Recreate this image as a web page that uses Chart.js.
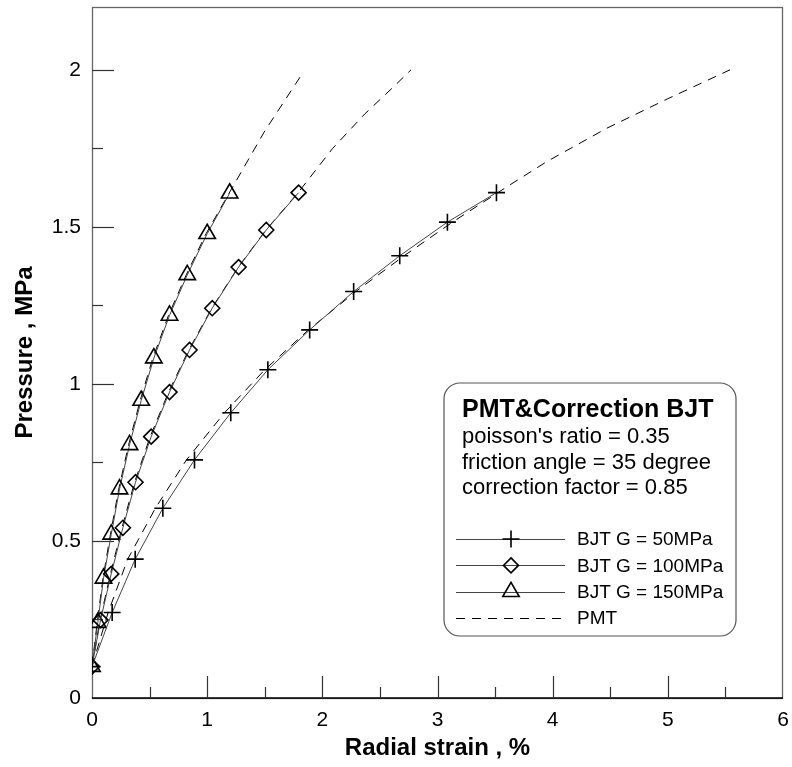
<!DOCTYPE html>
<html><head><meta charset="utf-8">
<script src="https://cdn.jsdelivr.net/npm/chart.js@4/dist/chart.umd.min.js"></script>
<style>html,body{margin:0;padding:0;background:#fff;}#wrap{width:792px;height:767px;}</style>
</head><body><div id="wrap"><canvas id="c" width="792" height="767"></canvas></div>
<script>
// ---- data ----
const bjt50X  = [0, 0.175, 0.375, 0.615, 0.89, 1.205, 1.527, 1.89, 2.272, 2.672, 3.086, 3.512];
const bjt50Y  = [0.1, 0.272, 0.442, 0.604, 0.758, 0.908, 1.045, 1.172, 1.294, 1.408, 1.515, 1.609];
const bjt100X = [0, 0.074, 0.167, 0.268, 0.378, 0.514, 0.673, 0.847, 1.044, 1.273, 1.513, 1.794];
const bjt100Y = [0.1, 0.248, 0.395, 0.542, 0.687, 0.832, 0.974, 1.108, 1.241, 1.372, 1.49, 1.609];
const bjt150X = [0, 0.05, 0.10, 0.167, 0.239, 0.326, 0.427, 0.537, 0.673, 0.827, 1.0, 1.195];
const bjt150Y = [0.1, 0.24, 0.381, 0.521, 0.665, 0.806, 0.947, 1.082, 1.218, 1.347, 1.478, 1.607];
const pmt50X  = [0, 0.14, 0.31, 0.55, 0.82, 1.15, 1.50, 1.88, 2.29, 2.71, 3.13, 3.6, 3.95, 4.47, 5.0, 5.54];
const pmt50Y  = [0.1, 0.272, 0.442, 0.604, 0.758, 0.908, 1.045, 1.172, 1.294, 1.408, 1.515, 1.627, 1.708, 1.814, 1.908, 2.0];
const pmt100X = [0, 0.07, 0.16, 0.26, 0.37, 0.505, 0.665, 0.84, 1.04, 1.27, 1.51, 1.79, 2.09, 2.37, 2.63, 2.77];
const pmt100Y = [0.1, 0.248, 0.395, 0.542, 0.687, 0.832, 0.974, 1.108, 1.241, 1.372, 1.49, 1.609, 1.75, 1.86, 1.95, 2.0];
const pmt150X = [0, 0.045, 0.095, 0.16, 0.232, 0.318, 0.418, 0.528, 0.664, 0.818, 0.99, 1.19, 1.5, 1.83];
const pmt150Y = [0.1, 0.24, 0.381, 0.521, 0.665, 0.806, 0.947, 1.082, 1.218, 1.347, 1.478, 1.607, 1.805, 1.99];

const xTickValues = [0, 1, 2, 3, 4, 5, 6];
const xTickLabels = ['0', '1', '2', '3', '4', '5', '6'];
const yTickValues = [0, 0.5, 1, 1.5, 2];
const yTickLabels = ['0', '0.5', '1', '1.5', '2'];
const xTitle = 'Radial strain , %';
const yTitle = 'Pressure , MPa';
const boxTitle = 'PMT&Correction BJT';
const boxLines = ["poisson's ratio = 0.35", 'friction angle = 35 degree', 'correction factor = 0.85'];
const seriesLabels = ['BJT G = 50MPa', 'BJT G = 100MPa', 'BJT G = 150MPa', 'PMT'];

const FONT = "Arial, 'Liberation Sans', sans-serif";
const pts = (xs, ys) => xs.map((x, i) => ({x: x, y: ys[i]}));

function bjtSet(label, xs, ys, style, r) {
  return {label: label, data: pts(xs, ys), showLine: true, borderColor: '#444', borderWidth: 1,
    pointStyle: style, pointRadius: r, pointBorderWidth: 1.6, pointBorderColor: '#000',
    pointBackgroundColor: 'rgba(0,0,0,0)', tension: 0, fill: false};
}
function pmtSet(xs, ys) {
  return {label: seriesLabels[3], data: pts(xs, ys), showLine: true, borderColor: '#000', borderWidth: 1,
    borderDash: [9, 7], pointRadius: 0, tension: 0, fill: false};
}

function drawMarker(ctx, style, x, y, r) {
  ctx.beginPath();
  if (style === 'cross') {
    ctx.moveTo(x - r, y); ctx.lineTo(x + r, y); ctx.moveTo(x, y - r); ctx.lineTo(x, y + r);
  } else if (style === 'rectRot') {
    ctx.moveTo(x, y - r); ctx.lineTo(x + r, y); ctx.lineTo(x, y + r); ctx.lineTo(x - r, y); ctx.closePath();
  } else if (style === 'triangle') {
    ctx.moveTo(x, y - r); ctx.lineTo(x + r * Math.sin(2 * Math.PI / 3), y + r / 2);
    ctx.lineTo(x - r * Math.sin(2 * Math.PI / 3), y + r / 2); ctx.closePath();
  }
  ctx.stroke();
}

const decorPlugin = {
  id: 'decor',
  beforeDatasetsDraw(chart) {
    const ctx = chart.ctx, a = chart.chartArea;
    const xs = chart.scales.x, ys = chart.scales.y;
    ctx.save();
    // frame
    ctx.strokeStyle = '#666'; ctx.lineWidth = 1.3;
    ctx.strokeRect(Math.round(a.left) + 0.5, Math.round(a.top) + 0.5, Math.round(a.right - a.left) - 1, Math.round(a.bottom - a.top));
    ctx.strokeStyle = '#000'; ctx.lineWidth = 1.5;
    ctx.beginPath(); ctx.moveTo(a.left, a.bottom); ctx.lineTo(a.right, a.bottom); ctx.stroke();
    // inward ticks
    ctx.strokeStyle = '#333'; ctx.lineWidth = 1.2;
    xs.ticks.forEach(t => {
      if (t.value <= 0 || t.value >= 6) return;
      const px = Math.round(xs.getPixelForValue(t.value)) + 0.5;
      const len = Math.abs(t.value - Math.round(t.value)) < 1e-6 ? 22 : 11;
      ctx.beginPath(); ctx.moveTo(px, a.bottom); ctx.lineTo(px, a.bottom - len); ctx.stroke();
    });
    ys.ticks.forEach(t => {
      if (t.value <= 0 || t.value > 2.001) return;
      const py = Math.round(ys.getPixelForValue(t.value)) + 0.5;
      const len = Math.abs(t.value * 2 - Math.round(t.value * 2)) < 1e-6 ? 22 : 11;
      ctx.beginPath(); ctx.moveTo(a.left, py); ctx.lineTo(a.left + len, py); ctx.stroke();
    });
    ctx.restore();
  },
  afterDatasetsDraw(chart) {
    const ctx = chart.ctx, a = chart.chartArea;
    const bx = a.left + 352, by = a.top + 376, bw = 292, bh = 253, rr = 16;
    ctx.save();
    ctx.beginPath();
    ctx.moveTo(bx + rr, by); ctx.lineTo(bx + bw - rr, by); ctx.arcTo(bx + bw, by, bx + bw, by + rr, rr);
    ctx.lineTo(bx + bw, by + bh - rr); ctx.arcTo(bx + bw, by + bh, bx + bw - rr, by + bh, rr);
    ctx.lineTo(bx + rr, by + bh); ctx.arcTo(bx, by + bh, bx, by + bh - rr, rr);
    ctx.lineTo(bx, by + rr); ctx.arcTo(bx, by, bx + rr, by, rr); ctx.closePath();
    ctx.fillStyle = '#fff'; ctx.fill();
    ctx.strokeStyle = '#555'; ctx.lineWidth = 1.2; ctx.stroke();
    ctx.fillStyle = '#000'; ctx.textBaseline = 'alphabetic'; ctx.textAlign = 'left';
    ctx.font = 'bold 25px ' + FONT;
    ctx.fillText(boxTitle, bx + 18, by + 34);
    ctx.font = '22px ' + FONT;
    const lineY = [60, 86, 111];
    boxLines.forEach((s, i) => ctx.fillText(s, bx + 18, by + lineY[i]));
    // legend entries
    const seen = [];
    const entries = [];
    chart.data.datasets.forEach(d => { if (seen.indexOf(d.label) < 0) { seen.push(d.label); entries.push(d); } });
    ctx.font = '19px ' + FONT; ctx.textBaseline = 'middle';
    entries.forEach((d, i) => {
      const y = by + 156 + i * 26.4;
      ctx.strokeStyle = d.borderColor; ctx.lineWidth = 1;
      ctx.setLineDash(d.borderDash || []);
      ctx.beginPath(); ctx.moveTo(bx + 12, Math.round(y) + 0.5); ctx.lineTo(bx + 121, Math.round(y) + 0.5); ctx.stroke();
      ctx.setLineDash([]);
      if (d.pointRadius > 0) {
        ctx.strokeStyle = '#000'; ctx.lineWidth = 1.6;
        drawMarker(ctx, d.pointStyle, bx + 67, y, d.pointRadius);
      }
      ctx.fillStyle = '#000';
      ctx.fillText(d.label, bx + 133, y + 1);
    });
    ctx.restore();
  }
};

new Chart(document.getElementById('c'), {
  type: 'scatter',
  data: {
    datasets: [
      bjtSet(seriesLabels[0], bjt50X, bjt50Y, 'cross', 8.5),
      bjtSet(seriesLabels[1], bjt100X, bjt100Y, 'rectRot', 7.5),
      bjtSet(seriesLabels[2], bjt150X, bjt150Y, 'triangle', 9.5),
      pmtSet(pmt50X, pmt50Y),
      pmtSet(pmt100X, pmt100Y),
      pmtSet(pmt150X, pmt150Y)
    ]
  },
  options: {
    responsive: false, animation: false, devicePixelRatio: 1, events: [],
    layout: {autoPadding: false, padding: {top: 7, right: 9, bottom: 0, left: 0}},
    plugins: {legend: {display: false}, tooltip: {enabled: false}},
    scales: {
      x: {
        type: 'linear', min: 0, max: 6,
        grid: {display: false, drawTicks: false}, border: {display: false},
        ticks: {stepSize: 0.5, maxTicksLimit: 100, includeBounds: false, padding: 10, color: '#000', maxRotation: 0,
          font: {family: FONT, size: 21},
          callback: v => { const i = xTickValues.findIndex(t => Math.abs(t - v) < 1e-6); return i >= 0 ? xTickLabels[i] : ''; }},
        title: {display: true, text: xTitle, color: '#000', font: {family: FONT, size: 24, weight: 'bold'}, padding: {top: 0, bottom: 4}},
        afterFit: s => { s.height = 69; s.paddingLeft = 0; s.paddingRight = 0; }
      },
      y: {
        type: 'linear', min: 0, max: 2.2,
        grid: {display: false, drawTicks: false}, border: {display: false},
        ticks: {stepSize: 0.25, maxTicksLimit: 100, includeBounds: false, padding: 11, color: '#000',
          font: {family: FONT, size: 21},
          callback: v => { const i = yTickValues.findIndex(t => Math.abs(t - v) < 1e-6); return i >= 0 ? yTickLabels[i] : ''; }},
        title: {display: true, text: yTitle, color: '#000', font: {family: FONT, size: 24, weight: 'bold'}, padding: {top: 11, bottom: 0}},
        afterFit: s => { s.width = 92; s.paddingTop = 0; s.paddingBottom = 0; }
      }
    }
  },
  plugins: [decorPlugin]
});
</script>
</body></html>
